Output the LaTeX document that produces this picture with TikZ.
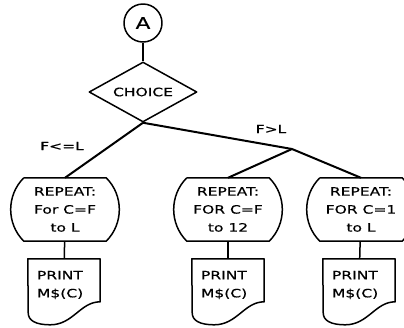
\documentclass[tikz,border=0pt]{standalone}
\usepackage{fontspec}
\newfontfamily\plotfont[FakeStretch=1.35, FakeBold=0.6]{DejaVu Sans}
\usetikzlibrary{shapes.geometric}
\begin{document}
\begin{tikzpicture}[x=1pt, y=-1pt, line join=round,
    every node/.style={font=\plotfont\fontsize{11.5}{18}\selectfont},
    conector/.style={draw, circle, minimum size=38pt, inner sep=0pt, line width=1.5pt, font=\plotfont\fontsize{16}{18}\selectfont},
    decision/.style={draw, diamond, aspect=2, minimum width=108pt, minimum height=60pt, inner sep=0pt, line width=1.5pt},
    ciclo/.style={minimum width=82pt, minimum height=63pt, inner sep=0pt, align=center},
    salida/.style={minimum width=72pt, minimum height=52pt, inner xsep=9pt, inner ysep=0pt, text width=54pt, align=left},
    borde/.style={line width=1.5pt},
    rama/.style={line width=2pt}]
    \useasboundingbox (0,0) rectangle (404,327);

    % Conector y decisión
    \node[conector] (conn) at (143,23) {A};
    \node[decision] (choice) at (143,92) {CHOICE};
    \draw[borde] (conn) -- (choice);

    % Ciclos
    \node[ciclo] (cL) at (65,209.5) {REPEAT:\\For C=F\\to L};
    \node[ciclo] (cM) at (228,209.5) {REPEAT:\\FOR C=F\\to 12};
    \node[ciclo] (cR) at (361,209.5) {REPEAT:\\FOR C=1\\to L};

    % Salidas
    \node[salida] (pL) at (64,285) {PRINT\\M\$(C)};
    \node[salida] (pM) at (228,285) {PRINT\\M\$(C)};
    \node[salida] (pR) at (359,285) {PRINT\\M\$(C)};

    % Bordes de ciclos y documentos
    \foreach \c in {cL,cM,cR}
        \draw[borde] (\c.north west) -- (\c.north east) to[bend left=45] (\c.south east)
            -- (\c.south west) to[bend left=45] (\c.north west);
    \foreach \p in {pL,pM,pR}
        \draw[borde] (\p.north west) -- (\p.north east) -- ++(0,43)
            .. controls +(-20,0) and +(23,0) .. ++(-50,23)
            .. controls +(-14,0) and +(0,8) .. ++(-22,-12) -- cycle;

    % Ramas
    \coordinate (fork) at (292,149);
    \draw[rama] (choice.south) -- (cL.north);
    \draw[rama] (choice.south) -- (fork);
    \draw[rama] (fork) -- (cM.north);
    \draw[rama] (fork) -- (cR.north);
    \node (lblA) at (62,146) {F<=L};
    \node (lblB) at (271,129) {F>L};

    \draw[borde] (cL) -- (pL);
    \draw[borde] (cM) -- (pM);
    \draw[borde] (cR) -- (pR);
\end{tikzpicture}
\end{document}
